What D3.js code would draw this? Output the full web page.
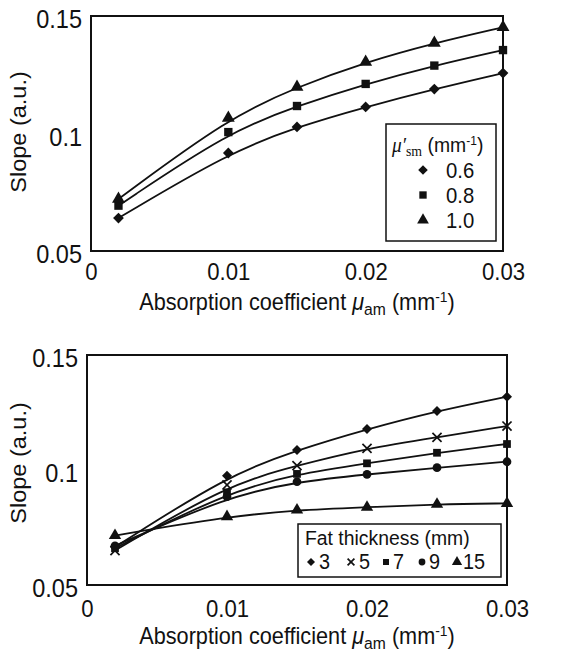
<!DOCTYPE html>
<html>
<head>
<meta charset="utf-8">
<script src="https://cdn.jsdelivr.net/npm/d3@7"></script>
<style>
  body { margin: 0; background: #fff; }
  text { font-family: "Liberation Sans", Arial, sans-serif; fill: #111; }
</style>
</head>
<body>
<script>
// x positions of the measurements (absorption coefficient, mm-1)
const xValues = [0.002, 0.01, 0.015, 0.02, 0.025, 0.03];
const xTicks = [0, 0.01, 0.02, 0.03];
const xTickLabels = ["0", "0.01", "0.02", "0.03"];
const yTicks = [0.05, 0.1, 0.15];
const yTickLabels = ["0.05", "0.1", "0.15"];

// top panel: reduced scattering coefficient of muscle
const scatterNames = ["0.6", "0.8", "1.0"];
const scatter06 = [0.064, 0.0917, 0.1028, 0.1113, 0.1189, 0.1257];
const scatter08 = [0.0693, 0.1006, 0.1117, 0.1211, 0.1289, 0.1355];
const scatter10 = [0.0721, 0.1066, 0.1198, 0.1304, 0.1385, 0.1452];

// bottom panel: fat thickness (mm)
const fatNames = ["3", "5", "7", "9", "15"];
const fat3 = [0.0665, 0.0975, 0.1087, 0.1178, 0.1257, 0.1319];
const fat5 = [0.065, 0.0935, 0.1019, 0.1094, 0.1142, 0.1191];
const fat7 = [0.066, 0.0903, 0.0983, 0.1029, 0.1075, 0.1113];
const fat9 = [0.067, 0.0884, 0.0949, 0.0981, 0.101, 0.1036];
const fat15 = [0.0715, 0.0797, 0.0826, 0.0838, 0.0851, 0.0855];

// the scanned figure has slightly narrow lettering
const SQ = 0.923;

const svg = d3.select("body").append("svg")
  .attr("width", 567)
  .attr("height", 653);

const shapes = {
  diamond: { type: d3.symbolSquare, rotate: 45, fill: true },
  square: { type: d3.symbolSquare, rotate: 0, fill: true },
  triangle: { type: d3.symbolTriangle, rotate: 0, fill: true },
  circle: { type: d3.symbolCircle, rotate: 0, fill: true },
  cross: { type: d3.symbolTimes, rotate: 0, fill: false }
};

function marker(g, shape, size, x, y) {
  const s = shapes[shape];
  const p = g.append("path")
    .attr("d", d3.symbol().type(s.type).size(size)())
    .attr("transform", `translate(${x},${y}) rotate(${s.rotate})`);
  if (s.fill) p.attr("fill", "#111");
  else p.attr("fill", "none").attr("stroke", "#111").attr("stroke-width", 1.7);
}

function label(g, x, y, size) {
  return g.append("text")
    .attr("transform", `translate(${x},${y}) scale(${SQ},1)`)
    .style("font-size", size + "px");
}

// "Absorption coefficient μam (mm-1)"
function xTitle(g, x, y) {
  const t = label(g, x, y, 23.5).attr("text-anchor", "middle");
  t.append("tspan").text("Absorption coefficient ");
  t.append("tspan").style("font-style", "italic").text("μ");
  t.append("tspan").attr("dy", 5).style("font-size", "17px").text("am");
  t.append("tspan").attr("dy", -5).text(" (mm");
  t.append("tspan").attr("dy", -8).style("font-size", "15px").text("-1");
  t.append("tspan").attr("dy", 8).text(")");
}

function drawPanel(cfg) {
  const x = d3.scaleLinear().domain([0, 0.03]).range([cfg.left, cfg.right]);
  const y = d3.scaleLinear().domain([0.05, 0.15]).range([cfg.bottom, cfg.top]);
  const g = svg.append("g");

  const line = d3.line()
    .x((d, i) => x(xValues[i]))
    .y(d => y(d))
    .curve(d3.curveBasis);
  cfg.series.forEach(s => {
    g.append("path").attr("d", line(s.values))
      .attr("fill", "none").attr("stroke", "#111").attr("stroke-width", 1.8);
  });
  cfg.series.forEach(s => {
    s.values.forEach((v, i) => marker(g, s.shape, s.size, x(xValues[i]), y(v)));
  });

  g.append("rect")
    .attr("x", cfg.left).attr("y", cfg.top)
    .attr("width", cfg.right - cfg.left).attr("height", cfg.bottom - cfg.top)
    .attr("fill", "none").attr("stroke", "#111").attr("stroke-width", 2);

  const xa = g.append("g").attr("transform", `translate(0,${cfg.bottom})`)
    .call(d3.axisBottom(x).tickValues(xTicks).tickSize(0)
      .tickFormat((d, i) => xTickLabels[i]));
  xa.select(".domain").remove();
  xa.selectAll("text").attr("y", 0).attr("dy", 0)
    .attr("transform", `translate(0,${cfg.tickGap}) scale(${SQ},1)`)
    .style("font-size", "24px").style("font-family", null).attr("fill", "#111");

  const ya = g.append("g").attr("transform", `translate(${cfg.left},0)`)
    .call(d3.axisLeft(y).tickValues(yTicks).tickSize(0)
      .tickFormat((d, i) => yTickLabels[i]));
  ya.select(".domain").remove();
  ya.selectAll("text").attr("x", 0).attr("dy", "0.46em")
    .attr("transform", `translate(-9,0) scale(${SQ},1)`)
    .style("font-size", "25.5px").style("font-family", null).attr("fill", "#111");

  xTitle(g, (cfg.left + cfg.right) / 2, cfg.bottom + cfg.titleGap);

  g.append("text")
    .attr("transform", `translate(26,${cfg.yTitleY}) scale(${SQ},1) rotate(-90)`)
    .attr("text-anchor", "middle").style("font-size", "23.5px")
    .text("Slope (a.u.)");

  cfg.legend(g);
}

// top panel
drawPanel({
  left: 91, right: 503, top: 16, bottom: 251,
  tickGap: 29, titleGap: 59, yTitleY: 132,
  series: [
    { values: scatter06, shape: "diamond", size: 58 },
    { values: scatter08, shape: "square", size: 70 },
    { values: scatter10, shape: "triangle", size: 72 }
  ],
  legend: g => {
    const lg = g.append("g");
    lg.append("rect").attr("x", 386).attr("y", 124).attr("width", 110).attr("height", 117)
      .attr("fill", "#fff").attr("stroke", "#111").attr("stroke-width", 1.5);
    const t = label(lg, 392, 152, 21);
    t.append("tspan").style("font-family", "Liberation Serif").style("font-style", "italic").text("μ′");
    t.append("tspan").attr("dy", 4).style("font-family", "Liberation Serif").style("font-size", "15px").text("sm");
    t.append("tspan").attr("dy", -4).text(" (mm");
    t.append("tspan").attr("dy", -7).style("font-size", "13px").text("-1");
    t.append("tspan").attr("dy", 7).text(")");
    const legShapes = ["diamond", "square", "triangle"];
    const legSizes = [46, 54, 60];
    scatterNames.forEach((name, i) => {
      const yy = 178 + i * 25;
      marker(lg, legShapes[i], legSizes[i], 423, yy - 8);
      label(lg, 446, yy, 22).text(name);
    });
  }
});

// bottom panel
drawPanel({
  left: 87, right: 507, top: 355, bottom: 585,
  tickGap: 32, titleGap: 59, yTitleY: 463,
  series: [
    { values: fat3, shape: "diamond", size: 50 },
    { values: fat5, shape: "cross", size: 56 },
    { values: fat7, shape: "square", size: 60 },
    { values: fat9, shape: "circle", size: 60 },
    { values: fat15, shape: "triangle", size: 66 }
  ],
  legend: g => {
    const lg = g.append("g");
    lg.append("rect").attr("x", 298).attr("y", 524).attr("width", 203).attr("height", 53)
      .attr("fill", "#fff").attr("stroke", "#111").attr("stroke-width", 1.5);
    label(lg, 305, 545, 21).text("Fat thickness (mm)");
    const legShapes = ["diamond", "cross", "square", "circle", "triangle"];
    const legSizes = [32, 32, 36, 36, 46];
    const markX = [311, 351, 386, 422, 457];
    const textX = [319, 359, 393, 429, 463];
    fatNames.forEach((name, i) => {
      marker(lg, legShapes[i], legSizes[i], markX[i], 562);
      label(lg, textX[i], 569, 21.5).text(name);
    });
  }
});
</script>
</body>
</html>
